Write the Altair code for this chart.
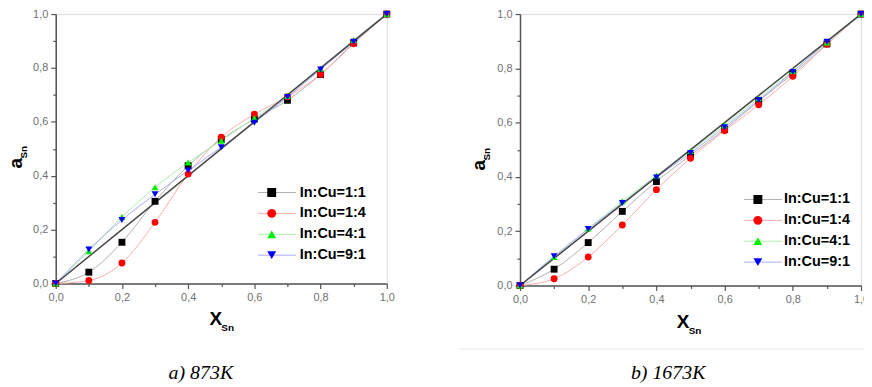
import altair as alt
import pandas as pd

# ---------------- data ----------------
x_sn = [0.0, 0.1, 0.2, 0.3, 0.4, 0.5, 0.6, 0.7, 0.8, 0.9, 1.0]
series_names = ["In:Cu=1:1", "In:Cu=1:4", "In:Cu=4:1", "In:Cu=9:1"]

# a) 873 K
a873_11 = [0.0, 0.042, 0.153, 0.305, 0.437, 0.535, 0.610, 0.680, 0.776, 0.893, 1.0]
a873_14 = [0.0, 0.011, 0.076, 0.227, 0.406, 0.543, 0.628, 0.693, 0.776, 0.890, 1.0]
a873_41 = [0.0, 0.120, 0.247, 0.357, 0.449, 0.530, 0.614, 0.696, 0.797, 0.904, 1.0]
a873_91 = [0.0, 0.126, 0.236, 0.331, 0.419, 0.506, 0.597, 0.692, 0.794, 0.897, 1.0]

# b) 1673 K
a1673_11 = [0.0, 0.060, 0.158, 0.273, 0.383, 0.480, 0.575, 0.680, 0.780, 0.890, 1.0]
a1673_14 = [0.0, 0.025, 0.105, 0.223, 0.353, 0.469, 0.570, 0.666, 0.771, 0.889, 1.0]
a1673_41 = [0.0, 0.105, 0.210, 0.310, 0.405, 0.495, 0.590, 0.690, 0.790, 0.895, 1.0]
a1673_91 = [0.0, 0.108, 0.208, 0.304, 0.398, 0.488, 0.583, 0.683, 0.787, 0.898, 1.0]

diag_x = [0.0, 1.0]
diag_y = [0.0, 1.0]

tick_values = [0.0, 0.1, 0.2, 0.3, 0.4, 0.5, 0.6, 0.7, 0.8, 0.9, 1.0]

marker_colors = ["#000000", "#ff0000", "#00ee00", "#0000ff"]
line_colors = ["#b0b0b0", "#ffaaaa", "#aaf0aa", "#aaaaff"]
shapes = ["square", "circle", "triangle-up", "triangle-down"]

FONT = "Liberation Sans"
SERIF = "Liberation Serif"


def make_frame(cols):
    rows = []
    for name, vals in zip(series_names, cols):
        for xv, yv in zip(x_sn, vals):
            rows.append({"x": xv, "y": yv, "series": name})
    return pd.DataFrame(rows)


tick_size = {"condition": {"test": "round(datum.value*10) % 2 == 0", "value": 5}, "value": 3}
label_expr = "round(datum.value*10) % 2 == 0 ? replace(format(datum.value, '.1f'), '.', ',') : ''"


def axis():
    return alt.Axis(values=tick_values, labelExpr=label_expr, tickSize=tick_size,
                    grid=False, labelFont=FONT, labelFontSize=11, labelColor="#707070",
                    labelPadding=3, tickColor="#555555", domainColor="#555555",
                    domainWidth=1.5, tickWidth=1.2, labelFlush=False, labelOverlap=False)


def legend(lx, ly, loff):
    return alt.Legend(title=None, orient="none", legendX=lx, legendY=ly,
                      labelFont=FONT, labelFontSize=14.5, labelFontWeight="bold",
                      labelColor="#000000", symbolSize=80, rowPadding=5, clipHeight=15,
                      labelOffset=loff, padding=0, symbolStrokeWidth=0)


def line_legend(lx, ly):
    return alt.Legend(title=None, orient="none", legendX=lx - 7, legendY=ly,
                      labelFont=FONT, labelFontSize=14.5, labelExpr="''",
                      symbolType="stroke", symbolSize=1444, symbolStrokeWidth=1,
                      rowPadding=5, clipHeight=15, padding=0)


def panel(cols, w, h, leg_x, leg_y, loff, xt, yt, caption, cap_x, cap_y, extra=None):
    df = make_frame(cols)
    sc_x = alt.Scale(domain=[0, 1], nice=False)
    sc_y = alt.Scale(domain=[0, 1], nice=False)
    X = alt.X("x:Q", scale=sc_x, axis=axis(), title=None)
    Y = alt.Y("y:Q", scale=sc_y, axis=axis(), title=None)

    lines = alt.Chart(df).mark_line(interpolate="monotone", strokeWidth=1).encode(
        x=X, y=Y,
        stroke=alt.Stroke("series:N", scale=alt.Scale(domain=series_names, range=line_colors),
                          legend=line_legend(leg_x, leg_y)),
        detail="series:N",
    )
    ddf = pd.DataFrame({"x": diag_x, "y": diag_y})
    diag = alt.Chart(ddf).mark_line(color="#444444", strokeWidth=1.5).encode(x=X, y=Y)
    pts = alt.Chart(df).mark_point(filled=True, size=48, opacity=1).encode(
        x=X, y=Y,
        color=alt.Color("series:N", scale=alt.Scale(domain=series_names, range=marker_colors),
                        legend=legend(leg_x, leg_y, loff)),
        shape=alt.Shape("series:N", scale=alt.Scale(domain=series_names, range=shapes),
                        legend=legend(leg_x, leg_y, loff)),
    )

    one = pd.DataFrame({"t": [""]})
    t_X = alt.Chart(one).mark_text(text="X", font=FONT, fontSize=19, fontWeight="bold",
                                   align="center", baseline="middle").encode(
        x=alt.value(xt[0]), y=alt.value(xt[1]))
    t_Xs = alt.Chart(one).mark_text(text="Sn", font=FONT, fontSize=10, fontWeight="bold",
                                    align="center", baseline="middle").encode(
        x=alt.value(xt[0] + 12), y=alt.value(xt[1] + 9))
    t_a = alt.Chart(one).mark_text(text="a", font=FONT, fontSize=19, fontWeight="bold",
                                   align="center", baseline="middle", angle=270).encode(
        x=alt.value(yt[0]), y=alt.value(yt[1]))
    t_as = alt.Chart(one).mark_text(text="Sn", font=FONT, fontSize=10, fontWeight="bold",
                                    align="center", baseline="middle", angle=270).encode(
        x=alt.value(yt[0] + 8), y=alt.value(yt[1] - 11))
    t_cap = alt.Chart(one).mark_text(text=caption, font=SERIF, fontSize=20, fontStyle="italic",
                                     align="center", baseline="middle", color="#000000").encode(
        x=alt.value(cap_x), y=alt.value(cap_y))

    layers = [lines, diag, pts, t_X, t_Xs, t_a, t_as, t_cap]
    if extra is not None:
        layers.append(extra)
    return alt.layer(*layers).properties(width=w, height=h).resolve_scale(
        color="independent", shape="independent", stroke="independent")


one_row = pd.DataFrame({"t": [""]})
sep = alt.Chart(one_row).mark_rule(color="#e6e6e6", strokeWidth=1).encode(
    x=alt.value(-61), x2=alt.value(351), y=alt.value(337))

pa = panel([a873_11, a873_14, a873_41, a873_91], 333, 271, 210, 172, 21,
           (161, 307), (-40, 150), "a) 873K", 146, 361)
pb = panel([a1673_11, a1673_14, a1673_41, a1673_91], 343, 273, 232, 179, 19,
           (164, 310), (-41, 152), "b) 1673K", 149, 361, extra=sep)

chart = alt.hconcat(pa, pb, spacing=134, bounds="flush").resolve_scale(
    color="independent", shape="independent", stroke="independent"
).resolve_legend(color="independent", shape="independent", stroke="independent").properties(
    padding={"left": -2, "top": -2, "right": -6, "bottom": 0},
).configure_view(stroke="#555555", strokeWidth=1.5).configure(background="white")

chart.save("out.html", embed_options={"renderer": "svg", "actions": False})
